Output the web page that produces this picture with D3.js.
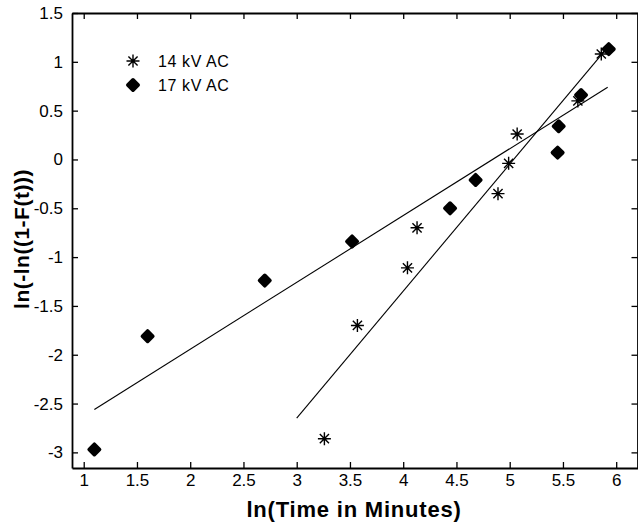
<!DOCTYPE html>
<html>
<head>
<meta charset="utf-8">
<script src="https://cdn.jsdelivr.net/npm/d3@7"></script>
<style>
  body { margin: 0; background: #fff; }
  text { font-family: "Liberation Sans", Arial, sans-serif; fill: #000; }
</style>
</head>
<body>
<div id="chart"></div>
<script>
// 14 kV AC (asterisks)
var x14 = [3.26, 3.57, 4.04, 4.13, 4.89, 4.99, 5.07, 5.64, 5.86];
var y14 = [-2.86, -1.70, -1.11, -0.70, -0.35, -0.04, 0.26, 0.60, 1.08];
// 17 kV AC (diamonds)
var x17 = [1.10, 1.60, 2.70, 3.52, 4.44, 4.68, 5.45, 5.46, 5.67, 5.93];
var y17 = [-2.97, -1.81, -1.24, -0.84, -0.50, -0.21, 0.07, 0.34, 0.66, 1.13];
// fitted lines, end points
var fit14x = [3.0, 5.89];
var fit14y = [-2.65, 1.11];
var fit17x = [1.10, 5.92];
var fit17y = [-2.56, 0.74];

var xTicks = [1, 1.5, 2, 2.5, 3, 3.5, 4, 4.5, 5, 5.5, 6];
var yTicks = [1.5, 1, 0.5, 0, -0.5, -1, -1.5, -2, -2.5, -3];
var legendLabels = ["14 kV AC", "17 kV AC"];

var w = 638, h = 526;
var mLeft = 72, mTop = 13, mRight = 637.5, mBottom = 468;

var svg = d3.select("#chart").append("svg")
    .attr("width", w)
    .attr("height", h);

var x = d3.scaleLinear().domain([0.89, 6.2]).range([mLeft, mRight]);
var y = d3.scaleLinear().domain([-3.16, 1.5]).range([mBottom, mTop]);

// plain hyphen for negatives, like the original
var fmt = function(d) { return String(d); };

// axes, ticks pointing inward
svg.append("g")
    .attr("transform", "translate(0," + mBottom + ")")
    .call(d3.axisBottom(x).tickValues(xTicks).tickSizeInner(-6).tickSizeOuter(0)
      .tickPadding(6).tickFormat(fmt));
svg.append("g")
    .attr("transform", "translate(0," + mTop + ")")
    .call(d3.axisTop(x).tickValues(xTicks).tickSizeInner(-6).tickSizeOuter(0)
      .tickFormat(""));
svg.append("g")
    .attr("transform", "translate(" + mLeft + ",0)")
    .call(d3.axisLeft(y).tickValues(yTicks).tickSizeInner(-6).tickSizeOuter(0)
      .tickPadding(9).tickFormat(fmt));
svg.append("g")
    .attr("transform", "translate(" + mRight + ",0)")
    .call(d3.axisRight(y).tickValues(yTicks).tickSizeInner(-6).tickSizeOuter(0)
      .tickFormat(""));

svg.selectAll(".domain").attr("stroke", "#000").attr("stroke-width", 1.8);
svg.selectAll(".tick line").attr("stroke", "#000").attr("stroke-width", 1.3);
svg.selectAll(".tick text")
    .style("font-size", "17px")
    .style("font-family", "'Liberation Sans', Arial, sans-serif")
    .attr("fill", "#000");

// fitted lines
var line = d3.line().x(function(d) { return x(d[0]); }).y(function(d) { return y(d[1]); });
svg.append("path")
    .datum(d3.zip(fit17x, fit17y))
    .attr("d", line)
    .attr("fill", "none").attr("stroke", "#000").attr("stroke-width", 1.1);
svg.append("path")
    .datum(d3.zip(fit14x, fit14y))
    .attr("d", line)
    .attr("fill", "none").attr("stroke", "#000").attr("stroke-width", 1.1);

// markers
var starPath = "M0,-6.5V6.5M-6.5,0H6.5M-4.6,-4.6L4.6,4.6M-4.6,4.6L4.6,-4.6";
var diamondPath = "M0,-5.2L5.2,0L0,5.2L-5.2,0Z";

function drawStar(sel) {
  sel.append("path").attr("d", starPath)
     .attr("fill", "none").attr("stroke", "#000").attr("stroke-width", 1.4);
}
function drawDiamond(sel) {
  sel.append("path").attr("d", diamondPath)
     .attr("fill", "#000").attr("stroke", "#000")
     .attr("stroke-width", 3.6).attr("stroke-linejoin", "round");
}

svg.selectAll("g.p17")
    .data(d3.zip(x17, y17))
    .enter().append("g")
    .attr("class", "p17")
    .attr("transform", function(d) { return "translate(" + x(d[0]) + "," + y(d[1]) + ")"; })
    .call(drawDiamond);

svg.selectAll("g.p14")
    .data(d3.zip(x14, y14))
    .enter().append("g")
    .attr("class", "p14")
    .attr("transform", function(d) { return "translate(" + x(d[0]) + "," + y(d[1]) + ")"; })
    .call(drawStar);

// legend
var legend = svg.append("g").attr("transform", "translate(133,61)");
legend.append("g").call(drawStar);
legend.append("g").attr("transform", "translate(0,24)").call(drawDiamond);
legend.selectAll("text")
    .data(legendLabels)
    .enter().append("text")
    .attr("x", 25)
    .attr("y", function(d, i) { return i * 24 + 6; })
    .style("font-size", "16px")
    .style("letter-spacing", "0.6px")
    .text(function(d) { return d; });

// axis titles
svg.append("text")
    .attr("x", 354)
    .attr("y", 517)
    .attr("text-anchor", "middle")
    .style("font-size", "22px")
    .style("font-weight", "bold")
    .style("letter-spacing", "0.8px")
    .text("ln(Time in Minutes)");

svg.append("text")
    .attr("transform", "translate(29,239) rotate(-90)")
    .attr("text-anchor", "middle")
    .style("font-size", "21px")
    .style("font-weight", "bold")
    .style("letter-spacing", "0.5px")
    .text("ln(-ln((1-F(t)))");
</script>
</body>
</html>
